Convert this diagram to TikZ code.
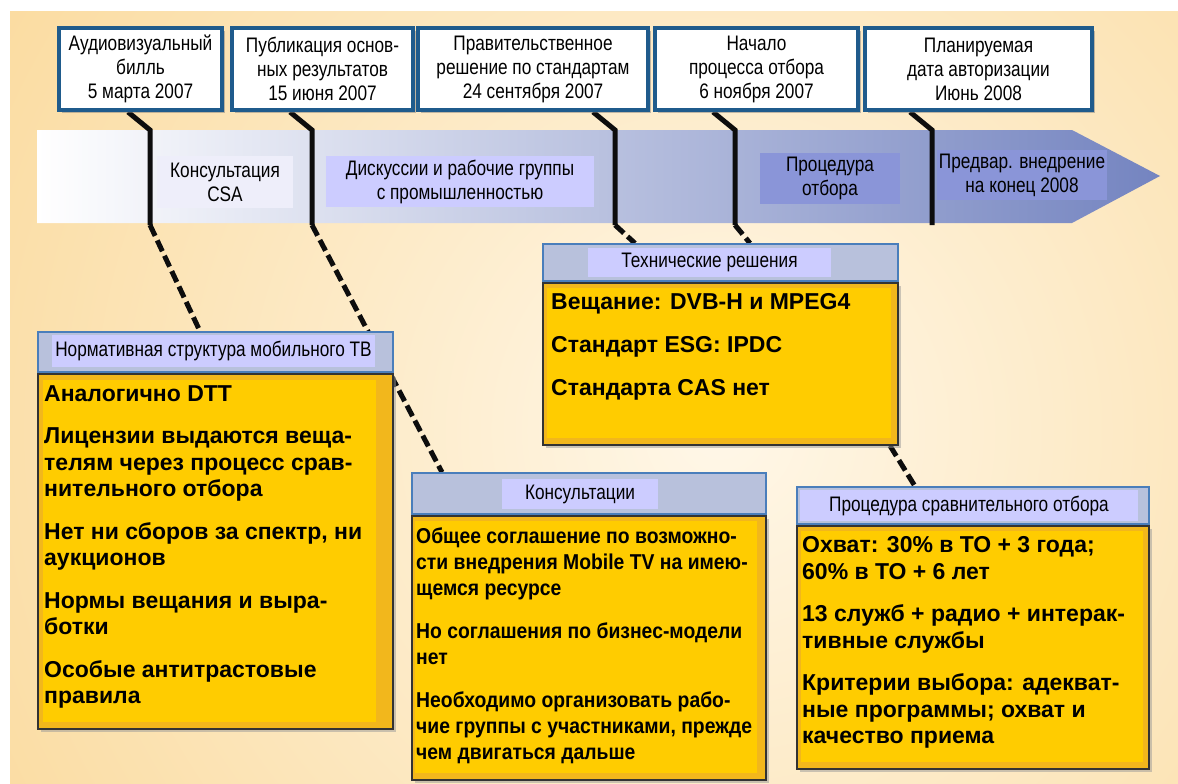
\documentclass[tikz,border=0pt]{standalone}
\usepackage{fontspec}
\setmainfont{Liberation Sans}
\newfontfamily\narrowfont[FakeStretch=0.82]{Liberation Sans}
\newfontfamily\narrowbold[FakeStretch=0.9]{Liberation Sans}
\usetikzlibrary{shadows}
\pgfdeclarelayer{back}
\pgfdeclarelayer{mid}
\pgfsetlayers{back,mid,main}

\definecolor{bgout}{HTML}{F9D38A}
\definecolor{bgin}{HTML}{FFF7E8}
\definecolor{frame}{HTML}{1F5B8C}
\definecolor{bandmid}{HTML}{B3BAD9}
\definecolor{bandend}{HTML}{7484C0}
\definecolor{lilac}{HTML}{CCCCFF}
\definecolor{pale}{HTML}{EEEEFA}
\definecolor{slate}{HTML}{8A95D8}
\definecolor{hdrfill}{HTML}{B8C1DC}
\definecolor{hdrline}{HTML}{4A7EBB}
\definecolor{gold}{HTML}{FFCC00}
\definecolor{golddark}{HTML}{F2B71C}

\begin{document}
\begin{tikzpicture}[x=1pt, y=-1pt,
    topbox/.style={draw=frame, line width=4pt, fill=white, inner sep=0pt,
        minimum height=82pt, align=center,
        font=\narrowfont\fontsize{21}{24}\selectfont,
        drop shadow={shadow xshift=3pt, shadow yshift=-3pt, fill=black!50}},
    bandlabel/.style={inner sep=0pt, align=center,
        font=\narrowfont\fontsize{21}{24}\selectfont},
    hdr/.style={draw=hdrline, line width=1.5pt, fill=hdrfill, inner sep=0pt},
    hdrlabel/.style={fill=lilac, inner sep=0pt,
        font=\narrowfont\fontsize{21}{24}\selectfont},
    body/.style={draw=black!80, line width=2pt, fill=golddark, inner sep=0pt,
        drop shadow={shadow xshift=3pt, shadow yshift=-3pt, fill=black!40}},
    bodytext/.style={inner sep=0pt, align=left, anchor=north west,
        font=\bfseries\fontsize{23}{26.5}\selectfont},
    tick/.style={line width=5pt, black!95},
    link/.style={line width=5pt, black!95, dash pattern=on 12pt off 5pt}]

    \useasboundingbox (0,0) rectangle (1178,784);

    % dates on top
    \node[topbox, minimum width=163pt] (bill) at (140.5,69) {Аудиовизуальный\\билль\\5 марта 2007};
    \node[topbox, minimum width=181pt] (publ) at (322.5,69) {Публикация основ-\\ных результатов\\15 июня 2007};
    \node[topbox, minimum width=230pt] (gov) at (533,69) {Правительственное\\решение по стандартам\\24 сентября 2007};
    \node[topbox, minimum width=203pt] (start) at (756.5,69) {Начало\\процесса отбора\\6 ноября 2007};
    \node[topbox, minimum width=227pt] (plan) at (978.5,69) {Планируемая\\дата авторизации\\Июнь 2008};

    % phases on the band
    \node[bandlabel, fill=pale, minimum width=136pt, minimum height=52pt] (csa) at (225,182) {Консультация\\CSA};
    \node[bandlabel, fill=lilac, minimum width=268pt, minimum height=51pt] (disc) at (460,181.5) {Дискуссии и рабочие группы\\с промышленностью};
    \node[bandlabel, fill=slate, minimum width=140pt, minimum height=51pt] (sel) at (830,178.5) {Процедура\\отбора};
    \node[bandlabel, fill=slate, minimum width=170pt, minimum height=50pt] (pre) at (1022,175) {Предвар. внедрение\\на конец 2008};

    % technical solutions
    \node[hdr, minimum width=355pt, minimum height=37pt] (techh) at (720.5,262.5) {};
    \node[hdrlabel, minimum width=243pt, minimum height=29pt] (techl) at (709.5,262.5) {Технические решения};
    \node[body, anchor=north, minimum width=355pt, minimum height=162pt] (techb) at (techh.south) {};
    \fill[gold] ([shift={(5,6)}]techb.north west) rectangle ([shift={(-8,-8)}]techb.south east);
    \node[bodytext, font=\bfseries\fontsize{23}{43}\selectfont] (techt) at ([shift={(9,11.5)}]techb.north west)
        {Вещание: DVB-H и MPEG4\\Стандарт ESG: IPDC\\Стандарта CAS нет};

    % regulatory frame
    \node[hdr, minimum width=355pt, minimum height=40pt] (normh) at (215.5,352) {};
    \node[hdrlabel, minimum width=323pt, minimum height=32pt] (norml) at (213.5,351) {Нормативная структура мобильного ТВ};
    \node[body, anchor=north, minimum width=355pt, minimum height=355pt] (normb) at (normh.south) {};
    \fill[gold] ([shift={(6,7)}]normb.north west) rectangle ([shift={(-18,-8)}]normb.south east);
    \node[bodytext] (normt) at ([shift={(7,12.5)}]normb.north west)
        {Аналогично DTT\\[16pt]
         Лицензии выдаются веща-\\телям через процесс срав-\\нительного отбора\\[16pt]
         Нет ни сборов за спектр, ни\\аукционов\\[16pt]
         Нормы вещания и выра-\\ботки\\[16pt]
         Особые антитрастовые\\правила};

    % consultations
    \node[hdr, minimum width=354pt, minimum height=41pt] (consh) at (589,493.5) {};
    \node[hdrlabel, minimum width=156pt, minimum height=30pt] (consl) at (580,494) {Консультации};
    \node[body, anchor=north, minimum width=354pt, minimum height=264pt] (consb) at (consh.south) {};
    \fill[gold] ([shift={(4,6)}]consb.north west) rectangle ([shift={(-10,-8)}]consb.south east);
    \node[bodytext, font=\narrowbold\bfseries\fontsize{21.5}{26}\selectfont] (const) at ([shift={(5,13)}]consb.north west)
        {Общее соглашение по возможно-\\сти внедрения Mobile TV на имею-\\щемся ресурсе\\[17pt]
         Но соглашения по бизнес-модели\\нет\\[17pt]
         Необходимо организовать рабо-\\чие группы с участниками, прежде\\чем двигаться дальше};

    % selection procedure
    \node[hdr, minimum width=352pt, minimum height=37pt] (proch) at (973,505.5) {};
    \node[hdrlabel, minimum width=338pt, minimum height=31pt] (procl) at (969,505.5) {Процедура сравнительного отбора};
    \node[body, anchor=north, minimum width=352pt, minimum height=243pt] (procb) at (proch.south) {};
    \fill[gold] ([shift={(5,6)}]procb.north west) rectangle ([shift={(-7,-8)}]procb.south east);
    \node[bodytext] (proct) at ([shift={(6,11.5)}]procb.north west)
        {Охват: 30\% в ТО + 3 года;\\60\% в ТО + 6 лет\\[16pt]
         13 служб + радио + интерак-\\тивные службы\\[16pt]
         Критерии выбора: адекват-\\ные программы; охват и\\качество приема};

    % ticks and links
    \begin{pgfonlayer}{mid}
        \draw[tick] ([xshift=-12.5]bill.south) -- ++(22,18) -- ++(0,95) coordinate (t1);
        \draw[tick] ([xshift=-32.5]publ.south) -- ++(22,18) -- ++(0,95) coordinate (t2);
        \draw[tick] ([xshift=60]gov.south) -- ++(22,18) -- ++(0,95) coordinate (t3);
        \draw[tick] ([xshift=-43.5]start.south) -- ++(22,18) -- ++(0,95) coordinate (t4);
        \draw[tick] ([xshift=-68.5]plan.south) -- ++(22,18) -- ++(0,95) coordinate (t5);
        \draw[link] (t1) -- ([xshift=-15.5]normh.north);
        \draw[link] (t2) -- ([xshift=-147]consh.north);
        \draw[link] (t3) -- ([xshift=-85.5]techh.north);
        \draw[link] (t4) -- ([xshift=29.5]techh.north);
        \draw[link] ([xshift=169.5]techb.south) -- ([xshift=-58]proch.north);
    \end{pgfonlayer}

    % background and band
    \begin{pgfonlayer}{back}
        \fill[white] (0,0) rectangle (1178,784);
        \begin{scope}
            \clip (10,12) rectangle (1178,784);
            \fill[bgout] (10,12) rectangle (1178,784);
            \shade[inner color=bgin, outer color=bgout] (720,430) circle (1100pt);
        \end{scope}
        \shade[left color=white, middle color=bandmid, right color=bandend]
            (37,130) -- (1072,130) -- (1160,176) -- (1072,223) -- (37,223) -- cycle;
    \end{pgfonlayer}
\end{tikzpicture}
\end{document}
